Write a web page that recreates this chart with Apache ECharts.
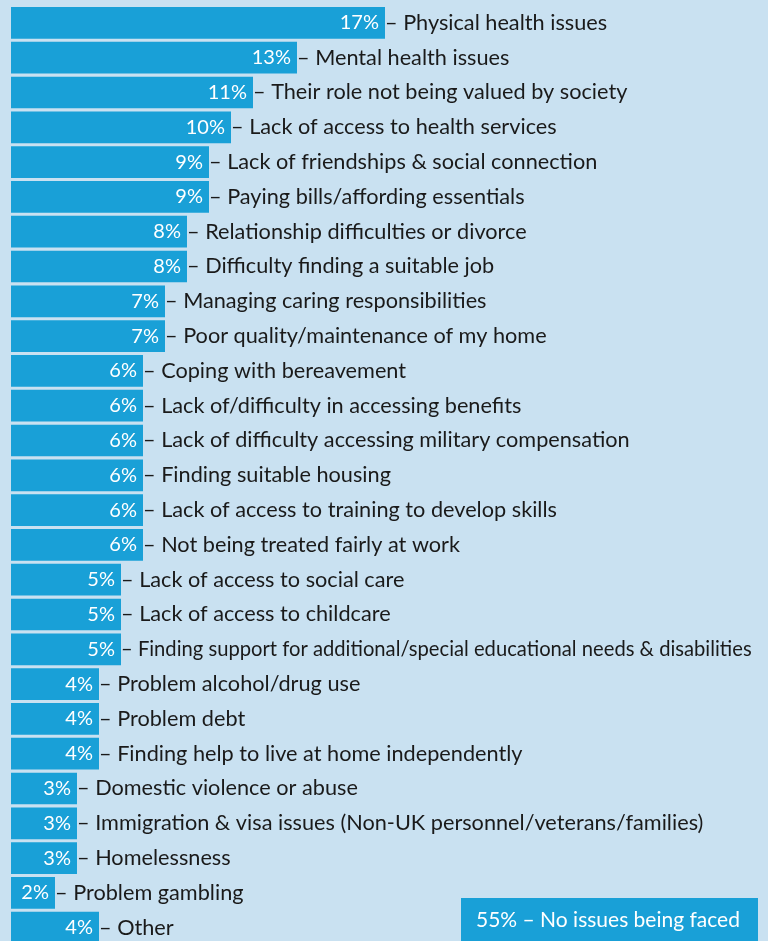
<!DOCTYPE html>
<html><head><meta charset="utf-8">
<script src="https://cdn.jsdelivr.net/npm/echarts@6/dist/echarts.min.js"></script>
<style>html,body{margin:0;padding:0;background:#c9e1f1;}#c{width:768px;height:941px;}</style>
</head><body><div id="c"></div>
<script>
const categories = [
  "Physical health issues",
  "Mental health issues",
  "Their role not being valued by society",
  "Lack of access to health services",
  "Lack of friendships & social connection",
  "Paying bills/affording essentials",
  "Relationship difficulties or divorce",
  "Difficulty finding a suitable job",
  "Managing caring responsibilities",
  "Poor quality/maintenance of my home",
  "Coping with bereavement",
  "Lack of/difficulty in accessing benefits",
  "Lack of difficulty accessing military compensation",
  "Finding suitable housing",
  "Lack of access to training to develop skills",
  "Not being treated fairly at work",
  "Lack of access to social care",
  "Lack of access to childcare",
  "Finding support for additional/special educational needs & disabilities",
  "Problem alcohol/drug use",
  "Problem debt",
  "Finding help to live at home independently",
  "Domestic violence or abuse",
  "Immigration & visa issues (Non-UK personnel/veterans/families)",
  "Homelessness",
  "Problem gambling",
  "Other"
];
const values = [17,13,11,10,9,9,8,8,7,7,6,6,6,6,6,6,5,5,5,4,4,4,3,3,3,2,4];
const noIssuesValue = 55;
const noIssuesLabel = "No issues being faced";

const BLUE = '#19a0d7';
const FONT = 'Lato';
const chart = echarts.init(document.getElementById('c'), null, {renderer:'canvas'});
const xMax = 30;
chart.setOption({
  backgroundColor: '#c9e1f1',
  animation: false,
  grid: {left: 11, top: 5.5, width: 22*xMax, height: 27*34.8, containLabel: false, outerBoundsMode: 'none'},
  xAxis: {type:'value', min:0, max:xMax, show:false},
  yAxis: {type:'category', data: categories, inverse:true, show:false},
  series: [
    {
      type:'bar', data: values, barWidth: 31.7, z: 2,
      itemStyle:{color: BLUE},
      label:{show:true, position:'insideRight', distance:6, color:'#fff',
        fontFamily: FONT, fontSize: 20, formatter: p => p.value + '%'}
    },
    {
      type:'bar', barGap:'-100%', barWidth: 31.7, z: 1,
      itemStyle:{color:'rgba(0,0,0,0)'},
      data: values.map((v,i) => ({value: v,
        label: categories[i].length > 65 ? {fontSize: 20.2} : undefined})),
      label:{show:true, position:'right', distance:0, color:'#1a1a1a',
        fontFamily: FONT, fontSize: 21.7, formatter: p => '– ' + categories[p.dataIndex]}
    }
  ],
  graphic: [
    {type:'rect', left: 461, top: 898, shape:{width: 297, height: 50}, style:{fill: BLUE}},
    {type:'text', left: 476, top: 910, style:{text: noIssuesValue + '% – ' + noIssuesLabel,
      fill:'#fff', font: '21px ' + FONT}}
  ]
});
</script></body></html>
